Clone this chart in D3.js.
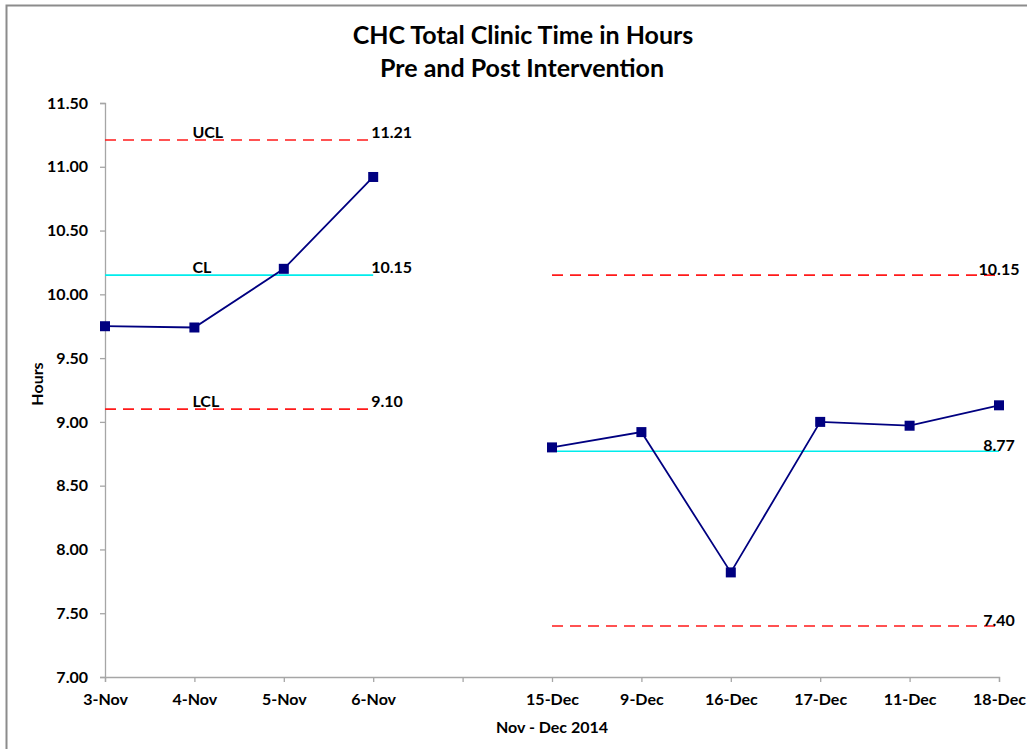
<!DOCTYPE html>
<html>
<head>
<meta charset="utf-8">
<script src="https://cdn.jsdelivr.net/npm/d3@7"></script>
<style>
  body { margin: 0; background: #fff; }
  text { font-family: Lato, 'Open Sans', sans-serif; font-weight: bold; }
</style>
</head>
<body>
<div id="chart"></div>
<script>
'use strict';

// categories (one empty slot between the two periods)
const categories = ['3-Nov', '4-Nov', '5-Nov', '6-Nov', '', '15-Dec', '9-Dec', '16-Dec', '17-Dec', '11-Dec', '18-Dec']
const pre_idx = [0, 1, 2, 3]
const post_idx = [5, 6, 7, 8, 9, 10]

// hours per day
const pre_values = [9.75, 9.74, 10.20, 10.92]
const post_values = [8.80, 8.92, 7.82, 9.00, 8.97, 9.13]

// control limits
const pre_limits = { ucl: 11.21, cl: 10.15, lcl: 9.10 }
const post_limits = { ucl: 10.15, cl: 8.77, lcl: 7.40 }

const y_ticks = [7.00, 7.50, 8.00, 8.50, 9.00, 9.50, 10.00, 10.50, 11.00, 11.50]

const chart = {
  width: 1027,
  height: 749,
  margin: { top: 103, left: 105, right: 28, bottom: 72 },
  navy: '#000080',
  red: '#ff1a1a',
  cyan: '#00ecec',
  axis_color: '#a6a6a6',
  font_size: '16px'
}
chart.ctrWidth = chart.width - chart.margin.left - chart.margin.right
chart.ctrHeight = chart.height - chart.margin.top - chart.margin.bottom

const svg = d3.select('#chart')
  .append('svg')
  .attr('width', chart.width)
  .attr('height', chart.height)

// outer frame
svg.append('rect')
  .attr('x', 6.5)
  .attr('y', 5.5)
  .attr('width', chart.width + 10)
  .attr('height', chart.height + 10)
  .attr('fill', 'none')
  .attr('stroke', '#8c8c8c')
  .attr('stroke-width', 2)

// title
svg.append('text')
  .attr('x', 523)
  .attr('y', 44)
  .attr('text-anchor', 'middle')
  .style('font-size', '25px')
  .text('CHC Total Clinic Time in Hours')
svg.append('text')
  .attr('x', 522)
  .attr('y', 77)
  .attr('text-anchor', 'middle')
  .style('font-size', '25px')
  .text('Pre and Post Intervention')

const chart_g = svg.append('g')
  .attr('transform', `translate(${chart.margin.left}, ${chart.margin.top})`)

// scales
const xScale = d3.scalePoint()
  .domain(d3.range(categories.length))
  .range([0, chart.ctrWidth])

const yScale = d3.scaleLinear()
  .domain([7, 11.5])
  .range([chart.ctrHeight, 0])

// x axis
const xAxis = d3.axisBottom(xScale)
  .tickSize(5)
  .tickPadding(12)
  .tickFormat(i => categories[i])
const xAxisGroup = chart_g.append('g')
  .attr('transform', `translate(0, ${chart.ctrHeight})`)
  .call(xAxis)
xAxisGroup.selectAll('text')
  .style('font-size', chart.font_size)
  .attr('fill', '#000')
xAxisGroup.append('text')
  .attr('x', 447)
  .attr('y', 56)
  .attr('text-anchor', 'middle')
  .attr('fill', '#000')
  .style('font-size', chart.font_size)
  .text('Nov - Dec 2014')

// y axis
const yAxis = d3.axisLeft(yScale)
  .tickValues(y_ticks)
  .tickSize(5)
  .tickPadding(12)
  .tickFormat(d3.format('.2f'))
const yAxisGroup = chart_g.append('g')
  .call(yAxis)
yAxisGroup.selectAll('text')
  .style('font-size', chart.font_size)
  .attr('fill', '#000')
yAxisGroup.append('text')
  .attr('x', -(chart.ctrHeight / 2) + 6)
  .attr('y', -62)
  .attr('transform', 'rotate(-90)')
  .attr('text-anchor', 'middle')
  .attr('fill', '#000')
  .style('font-size', chart.font_size)
  .text('Hours')

// axis colours
chart_g.selectAll('.domain, .tick line')
  .attr('stroke', chart.axis_color)
  .attr('stroke-width', 1.3)

// control lines
const limit_lines = [
  { idx: pre_idx, value: pre_limits.ucl, color: chart.red, dash: '11,7' },
  { idx: pre_idx, value: pre_limits.cl, color: chart.cyan, dash: null },
  { idx: pre_idx, value: pre_limits.lcl, color: chart.red, dash: '11,7' },
  { idx: post_idx, value: post_limits.ucl, color: chart.red, dash: '11,7' },
  { idx: post_idx, value: post_limits.cl, color: chart.cyan, dash: null },
  { idx: post_idx, value: post_limits.lcl, color: chart.red, dash: '11,7' }
]
chart_g.append('g')
  .selectAll('line')
  .data(limit_lines)
  .join('line')
  .attr('x1', d => xScale(d.idx[0]))
  .attr('x2', d => xScale(d.idx[d.idx.length - 1]))
  .attr('y1', d => yScale(d.value))
  .attr('y2', d => yScale(d.value))
  .attr('stroke', d => d.color)
  .attr('stroke-width', 1.7)
  .attr('stroke-dasharray', d => d.dash)

// series lines
const line = d3.line()
  .x(d => xScale(d.i))
  .y(d => yScale(d.v))
const segments = [
  pre_idx.map((i, k) => ({ i: i, v: pre_values[k] })),
  post_idx.map((i, k) => ({ i: i, v: post_values[k] }))
]
chart_g.append('g')
  .selectAll('path')
  .data(segments)
  .join('path')
  .attr('d', line)
  .attr('fill', 'none')
  .attr('stroke', chart.navy)
  .attr('stroke-width', 1.8)

// markers
chart_g.append('g')
  .selectAll('rect')
  .data(segments.flat())
  .join('rect')
  .attr('x', d => xScale(d.i) - 5)
  .attr('y', d => yScale(d.v) - 5)
  .attr('width', 10)
  .attr('height', 10)
  .attr('fill', chart.navy)

// limit labels
const label_g = chart_g.append('g')
  .style('font-size', chart.font_size)
  .attr('fill', '#000')
const pre_names = [['UCL', pre_limits.ucl], ['CL', pre_limits.cl], ['LCL', pre_limits.lcl]]
label_g.selectAll('.pre_name')
  .data(pre_names)
  .join('text')
  .attr('class', 'pre_name')
  .attr('x', xScale(1) - 2)
  .attr('y', d => yScale(d[1]) - 2)
  .text(d => d[0])
label_g.selectAll('.pre_val')
  .data(pre_names)
  .join('text')
  .attr('class', 'pre_val')
  .attr('x', xScale(3) - 2)
  .attr('y', d => yScale(d[1]) - 2)
  .text(d => d3.format('.2f')(d[1]))
label_g.selectAll('.post_val')
  .data([post_limits.ucl, post_limits.cl, post_limits.lcl])
  .join('text')
  .attr('class', 'post_val')
  .attr('x', xScale(10))
  .attr('y', d => yScale(d))
  .attr('text-anchor', 'middle')
  .text(d => d3.format('.2f')(d))
</script>
</body>
</html>
